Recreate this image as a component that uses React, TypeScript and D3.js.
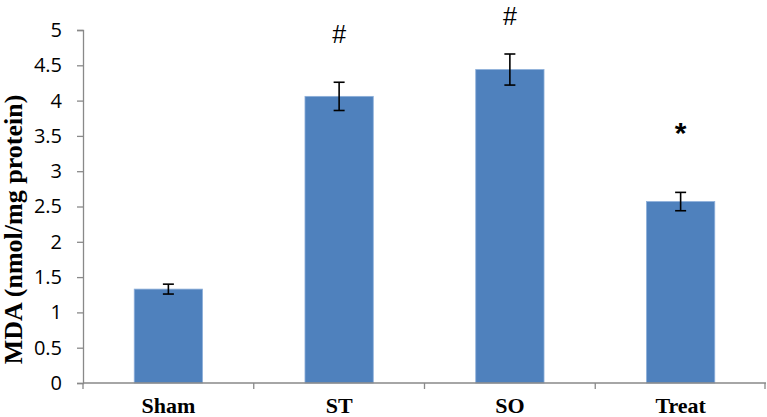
import React, { useRef, useEffect } from 'react';
import * as d3 from 'd3';

const categories = ['Sham', 'ST', 'SO', 'Treat'];
const mdaValues = [1.33, 4.06, 4.44, 2.57];
const mdaErrors = [0.07, 0.2, 0.22, 0.13];
const markLabels = ['', '#', '#', '*'];
const markLevels = [0, 4.94, 5.2, 3.67];
const yTicks = [0, 0.5, 1, 1.5, 2, 2.5, 3, 3.5, 4, 4.5, 5];

const App = () => {
  const chartRef = useRef<SVGSVGElement | null>(null);

  useEffect(() => {
    const width = 767;
    const height = 417;
    const margin = { top: 30, right: 1, bottom: 34, left: 83 };

    const svg = d3.select(chartRef.current);
    svg.selectAll('*').remove();

    const x = d3.scaleBand<string>()
      .domain(categories)
      .range([margin.left, width - margin.right])
      .paddingInner(0.6)
      .paddingOuter(0.3);

    const y = d3.scaleLinear()
      .domain([0, 5])
      .range([height - margin.bottom, margin.top]);

    const axisColor = '#898989';

    // y axis
    const yAxis = svg.append('g')
      .attr('transform', `translate(${margin.left},0)`)
      .call(d3.axisLeft(y).tickValues(yTicks).tickSize(6).tickPadding(15).tickFormat(d => String(d)));
    yAxis.select('.domain').attr('stroke', axisColor).attr('stroke-width', 1.3);
    yAxis.selectAll('.tick line').attr('stroke', axisColor).attr('stroke-width', 1.3);
    yAxis.selectAll('.tick text')
      .attr('fill', '#000')
      .style('font-family', '"Open Sans", sans-serif')
      .style('font-size', '20px');

    // bars
    svg.append('g')
      .selectAll('rect')
      .data(categories)
      .enter()
      .append('rect')
      .attr('x', d => x(d)!)
      .attr('y', (d, i) => y(mdaValues[i]))
      .attr('width', x.bandwidth())
      .attr('height', (d, i) => y(0) - y(mdaValues[i]))
      .attr('fill', '#4F81BD')
      .attr('stroke', '#8EB0DA')
      .attr('stroke-width', 0.8);

    // x axis
    const step = x.step();
    const xAxisG = svg.append('g');
    xAxisG.append('line')
      .attr('x1', margin.left)
      .attr('x2', width - margin.right)
      .attr('y1', y(0))
      .attr('y2', y(0))
      .attr('stroke', axisColor)
      .attr('stroke-width', 1.3);
    xAxisG.selectAll('line.tk')
      .data(d3.range(categories.length + 1))
      .enter()
      .append('line')
      .attr('class', 'tk')
      .attr('x1', i => margin.left + i * step - (i === categories.length ? 1 : 0))
      .attr('x2', i => margin.left + i * step - (i === categories.length ? 1 : 0))
      .attr('y1', y(0))
      .attr('y2', y(0) + 6)
      .attr('stroke', axisColor)
      .attr('stroke-width', 1.3);
    xAxisG.selectAll('text')
      .data(categories)
      .enter()
      .append('text')
      .attr('x', d => x(d)! + x.bandwidth() / 2)
      .attr('y', 413)
      .attr('text-anchor', 'middle')
      .style('font-family', '"Liberation Serif", "Times New Roman", serif')
      .style('font-weight', 'bold')
      .style('font-size', '22px')
      .text(d => d);

    // error bars
    const eb = svg.append('g').attr('stroke', '#000').attr('stroke-width', 1.6);
    categories.forEach((c, i) => {
      const cx = x(c)! + x.bandwidth() / 2;
      const top = y(mdaValues[i] + mdaErrors[i]);
      const bot = y(mdaValues[i] - mdaErrors[i]);
      eb.append('line').attr('x1', cx).attr('x2', cx).attr('y1', top).attr('y2', bot);
      eb.append('line').attr('x1', cx - 5.5).attr('x2', cx + 5.5).attr('y1', top).attr('y2', top);
      eb.append('line').attr('x1', cx - 5.5).attr('x2', cx + 5.5).attr('y1', bot).attr('y2', bot);
    });

    // significance marks
    svg.append('g')
      .selectAll('text')
      .data(categories)
      .enter()
      .append('text')
      .attr('x', d => x(d)! + x.bandwidth() / 2)
      .attr('y', (d, i) => y(markLevels[i]))
      .attr('dy', (d, i) => (markLabels[i] === '*' ? '0.65em' : '0.35em'))
      .attr('text-anchor', 'middle')
      .style('font-family', '"Liberation Sans", Arial, sans-serif')
      .style('font-size', (d, i) => (markLabels[i] === '*' ? '30px' : '25px'))
      .style('font-weight', (d, i) => (markLabels[i] === '*' ? 'bold' : 'normal'))
      .text((d, i) => markLabels[i]);

    // y title
    svg.append('text')
      .attr('transform', `translate(22,${(87 + 372) / 2}) rotate(-90)`)
      .attr('text-anchor', 'middle')
      .style('font-family', '"Liberation Serif", "Times New Roman", serif')
      .style('font-weight', 'bold')
      .style('font-size', '26px')
      .text('MDA (nmol/mg protein)');
  }, []);

  return (
    <svg
      ref={chartRef}
      width={767}
      height={417}
      style={{ position: 'absolute', left: 0, top: 0, background: '#fff', display: 'block' }}
    />
  );
};

export default App;
